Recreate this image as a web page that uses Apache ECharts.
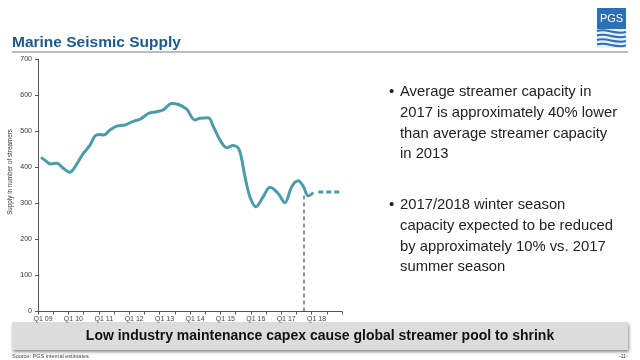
<!DOCTYPE html>
<html>
<head>
<meta charset="utf-8">
<script src="https://cdn.jsdelivr.net/npm/echarts@6/dist/echarts.min.js"></script>
<style>html,body{margin:0;padding:0;background:#fff;}#c{width:640px;height:360px;}</style>
</head>
<body>
<div id="c"></div>
<script>
// ---- data ----
var supplyTime = [2009.10, 2009.29, 2009.39, 2009.62, 2009.83, 2010.05, 2010.22, 2010.49, 2010.71, 2010.88,
  2011.04, 2011.15, 2011.37, 2011.59, 2011.86, 2012.13, 2012.36, 2012.63, 2012.90, 2013.12,
  2013.40, 2013.62, 2013.89, 2014.16, 2014.33, 2014.60, 2014.77, 2014.99, 2015.21, 2015.42,
  2015.62, 2015.81, 2015.97, 2016.17, 2016.41, 2016.63, 2016.90, 2017.12, 2017.35, 2017.56,
  2017.73, 2017.89, 2018.06];
var supplyValue = [428, 416, 410, 412, 398, 387, 402, 439, 462, 488,
  492, 490, 504, 515, 518, 528, 534, 550, 555, 560,
  578, 575, 562, 532, 537, 538, 513, 476, 455, 461,
  449, 374, 319, 291, 319, 345, 328, 302, 347, 363,
  347, 321, 330];
var forecastTime = [2018.22, 2018.93];
var forecastValue = [332, 332];
var cutoffTime = [2017.75, 2017.75];
var cutoffValue = [0, 330];
var xTickYears = [2009, 2010, 2011, 2012, 2013, 2014, 2015, 2016, 2017, 2018];
var xTickLabels = ['Q1 09', 'Q1 10', 'Q1 11', 'Q1 12', 'Q1 13', 'Q1 14', 'Q1 15', 'Q1 16', 'Q1 17', 'Q1 18'];
var bullet1 = ['Average streamer capacity in', '2017 is approximately 40% lower', 'than average streamer capacity', 'in 2013'];
var bullet2 = ['2017/2018 winter season', 'capacity expected to be reduced', 'by approximately 10% vs. 2017', 'summer season'];

function zip(a, b) { return a.map(function (v, i) { return [v, b[i]]; }); }

var chart = echarts.init(document.getElementById('c'), null, { renderer: 'canvas' });
var font = 'Liberation Sans, Arial, sans-serif';
var teal = '#4b9ca7';

var option = {
  animation: false,
  backgroundColor: '#ffffff',
  textStyle: { fontFamily: font },
  grid: { left: 38, right: 298, top: 59.5, bottom: 48.5, containLabel: false },
  xAxis: {
    type: 'value', min: 2009, max: 2019, interval: 0.5,
    axisLine: { show: true, onZero: false, lineStyle: { color: '#555', width: 1 } },
    axisTick: { show: true, length: 3, lineStyle: { color: '#555' } },
    splitLine: { show: false },
    axisLabel: {
      fontSize: 7, color: '#444', margin: 4, padding: [0, 0, 0, 10],
      formatter: function (v) {
        var i = xTickYears.indexOf(Math.round(v * 100) / 100);
        return i >= 0 ? xTickLabels[i] : '';
      }
    }
  },
  yAxis: {
    type: 'value', min: 0, max: 700, interval: 100,
    axisLine: { show: true, lineStyle: { color: '#555', width: 1 } },
    axisTick: { show: true, length: 3, lineStyle: { color: '#555' } },
    splitLine: { show: false },
    axisLabel: { fontSize: 7, color: '#333', margin: 6 }
  },
  series: [
    {
      type: 'line', data: zip(supplyTime, supplyValue), smooth: 0.35, showSymbol: false,
      lineStyle: { color: teal, width: 3 }, z: 3
    },
    {
      type: 'line', data: zip(forecastTime, forecastValue), showSymbol: false,
      lineStyle: { color: teal, width: 3, type: [5, 3] }, z: 3
    },
    {
      type: 'line', data: zip(cutoffTime, cutoffValue), showSymbol: false,
      lineStyle: { color: '#222', width: 1, type: [4, 3] }, z: 2
    }
  ],
  graphic: [
    // title
    { type: 'text', left: 12, top: 34.5, style: { text: 'Marine Seismic Supply', font: 'bold 15.5px ' + font, fill: '#1d5a8c' } },
    // rule
    { type: 'line', shape: { x1: 12, y1: 52, x2: 628, y2: 52 }, style: { stroke: '#a3a8ad', lineWidth: 1.5 } },
    // logo
    { type: 'rect', shape: { x: 597, y: 8, width: 29, height: 21 }, style: { fill: '#2b6fb5' } },
    { type: 'text', x: 611.5, y: 18.5, style: { text: 'PGS', font: '11px ' + font, fill: '#fff', textAlign: 'center', textVerticalAlign: 'middle' } },
    { type: 'rect', shape: { x: 597, y: 29, width: 29, height: 19 }, style: { fill: '#e8eef5' } },
    { type: 'bezierCurve', shape: { x1: 597, y1: 31, cpx1: 607, cpy1: 28, cpx2: 615, cpy2: 35, x2: 626, y2: 32 }, style: { stroke: '#2b6fb5', lineWidth: 2, fill: null } },
    { type: 'bezierCurve', shape: { x1: 597, y1: 35.5, cpx1: 607, cpy1: 32.5, cpx2: 615, cpy2: 39.5, x2: 626, y2: 36.5 }, style: { stroke: '#2b6fb5', lineWidth: 2, fill: null } },
    { type: 'bezierCurve', shape: { x1: 597, y1: 40, cpx1: 607, cpy1: 37, cpx2: 615, cpy2: 44, x2: 626, y2: 41 }, style: { stroke: '#2b6fb5', lineWidth: 2, fill: null } },
    { type: 'bezierCurve', shape: { x1: 597, y1: 44.5, cpx1: 607, cpy1: 41.5, cpx2: 615, cpy2: 48.5, x2: 626, y2: 45.5 }, style: { stroke: '#2b6fb5', lineWidth: 2, fill: null } },
    // y axis name
    { type: 'text', x: 10, y: 172, rotation: Math.PI / 2, style: { text: 'Supply in number of streamers', font: '6.3px ' + font, fill: '#333', textAlign: 'center', textVerticalAlign: 'middle' } },
    // bullets
    { type: 'text', x: 389, y: 81.5, style: { text: '•', font: '15px ' + font, fill: '#222', lineHeight: 21 } },
    { type: 'text', x: 400, y: 81.5, style: { text: bullet1.join('\n'), font: '14.8px ' + font, fill: '#222', lineHeight: 20.8 } },
    { type: 'text', x: 389, y: 194.5, style: { text: '•', font: '15px ' + font, fill: '#222', lineHeight: 21 } },
    { type: 'text', x: 400, y: 194.5, style: { text: bullet2.join('\n'), font: '14.8px ' + font, fill: '#222', lineHeight: 20.8 } },
    // banner
    { type: 'rect', shape: { x: 12, y: 322, width: 616, height: 28 }, style: { fill: '#dcdcdc', shadowBlur: 3, shadowColor: 'rgba(0,0,0,0.45)', shadowOffsetY: 2, shadowOffsetX: 1 } },
    { type: 'text', x: 320, y: 336.5, style: { text: 'Low industry maintenance capex cause global streamer pool to shrink', font: 'bold 14px ' + font, fill: '#111', textAlign: 'center', textVerticalAlign: 'middle' } },
    // footer
    { type: 'text', x: 12, y: 356.5, style: { text: 'Source: PGS internal estimates.', font: '5.5px ' + font, fill: '#444', textVerticalAlign: 'middle' } },
    { type: 'text', x: 628, y: 356.5, style: { text: '-11-', font: '5.5px ' + font, fill: '#444', textAlign: 'right', textVerticalAlign: 'middle' } }
  ]
};
chart.setOption(option);
</script>
</body>
</html>
